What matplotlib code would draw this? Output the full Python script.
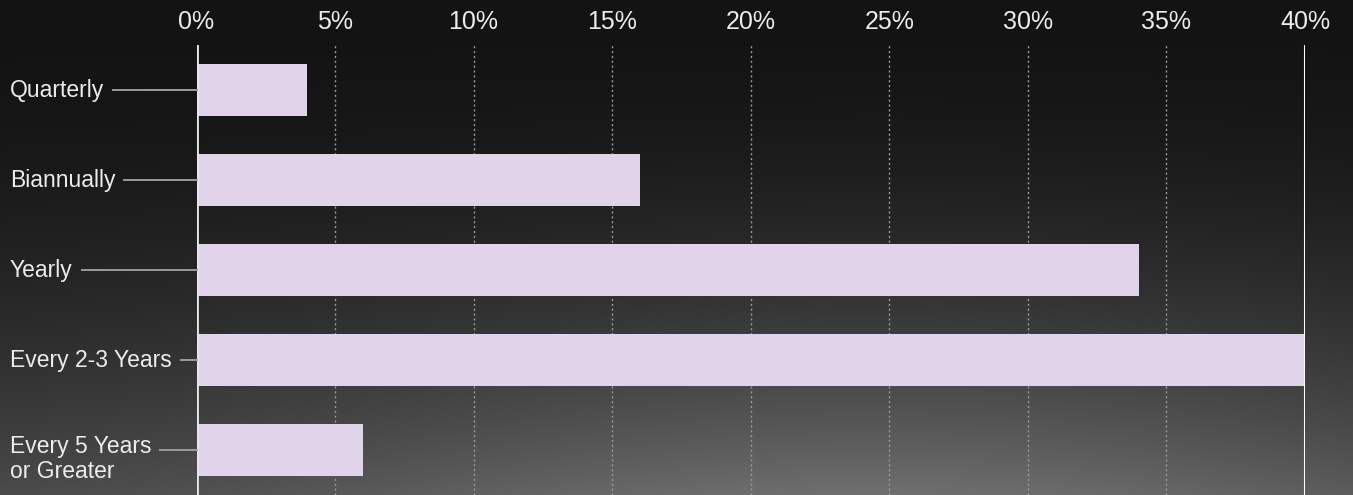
import numpy as np
import matplotlib
matplotlib.use("Agg")
import matplotlib.pyplot as plt

categories = ["Quarterly", "Biannually", "Yearly", "Every 2-3 Years", "Every 5 Years\nor Greater"]
shares = [4, 16, 34, 40, 6]
ticks = [0, 5, 10, 15, 20, 25, 30, 35, 40]

plt.rcParams['font.family'] = ['Liberation Sans', 'DejaVu Sans']

W, H = 1353, 495
fig = plt.figure(figsize=(W / 100, H / 100), dpi=100)

# dark cloudy background as a simple gradient
bg = fig.add_axes([0, 0, 1, 1])
yy, xx = np.mgrid[0:1:200j, 0:1:500j]
bump = 0.55 + 0.45 * np.exp(-((xx - 0.65) / 0.45) ** 2)
val = 0.075 + (yy ** 2.0) * 0.36 * bump
bg.imshow(np.dstack([val, val, val]), aspect='auto', extent=[0, 1, 0, 1], origin='upper')
bg.set_axis_off()

left, right = 196.5 / W, 1305 / W
top = (H - 45) / H
ax = fig.add_axes([left, 0, right - left, top])
ax.patch.set_alpha(0)

y = np.arange(len(categories))
ax.barh(y, shares, height=0.57, color='#e1d4ea', zorder=3)
ax.set_xlim(0, 40)
ax.set_ylim(len(categories) - 0.5, -0.5)

for t in ticks[1:-1]:
    ax.axvline(t, color='#9a9a9a', lw=1, ls=(0, (1.5, 2)), zorder=1)
ax.axvline(0, color='#e8e8e8', lw=2, zorder=4)
ax.axvline(40, color='#ffffff', lw=2.2, zorder=4)

ax.xaxis.tick_top()
ax.set_xticks(ticks)
ax.set_xticklabels([f"{t}%" for t in ticks])
ax.tick_params(axis='x', length=0, pad=8, labelsize=18, colors='#ececec')
ax.set_yticks([])
for s in ax.spines.values():
    s.set_visible(False)

# category labels with connector lines
fig.canvas.draw()
renderer = fig.canvas.get_renderer()
for i, name in enumerate(categories):
    yc = ax.transData.transform((0, i))[1]
    off = -9 if "\n" in name else 0
    txt = fig.text(10 / W, (yc + off) / H, name, fontsize=16.5, color='#ececec',
                   va='center', ha='left', linespacing=1.15)
    bb = txt.get_window_extent(renderer)
    x0 = (bb.x1 + 9) / W
    if "\n" in name:
        x0 = 160 / W
    fig.add_artist(plt.Line2D([x0, left], [yc / H, yc / H], color='#9c9c9c', lw=1.4))

fig.savefig("out.png", dpi=100)
